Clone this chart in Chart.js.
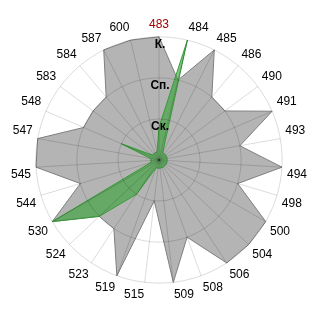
<!DOCTYPE html>
<html>
<head>
<meta charset="utf-8">
<script src="https://cdn.jsdelivr.net/npm/chart.js@4"></script>
<style>
    html, body { margin: 0; padding: 0; background: #ffffff; }
    #wrap { width: 320px; height: 320px; }
</style>
</head>
<body>
<div id="wrap"><canvas id="chart"></canvas></div>
<script>
const categories = ['483', '484', '485', '486', '490', '491', '493', '494', '498', '500', '504', '506', '508', '509',
    '515', '519', '523', '524', '530', '544', '545', '547', '548', '583', '584', '587', '600'];
const grayValues = [3, 2, 3, 2, 2, 3, 2, 3, 2, 3, 3, 3, 2, 3, 1, 3, 2, 2, 3, 2, 3, 3, 2, 2, 2, 3, 3];
const greenValues = [0.8, 3, 0.2, 0.2, 0.2, 0.2, 0.2, 0.2, 0.2, 0.2, 0.2, 0.2, 0.2, 0.2,
    0.2, 0.2, 1, 2, 3, 0.2, 0.2, 0.2, 1, 0.2, 0.2, 0.2, 0.2];
const tickValues = [1, 2, 3];
const tickLabels = ['Ск.', 'Сп.', 'К.'];
const highlightCategory = '483';

// подписи уровней рисуем чуть ниже колец
const levelLabels = {
    id: 'levelLabels',
    afterDraw(chart) {
        const scale = chart.scales.r;
        const ctx = chart.ctx;
        ctx.save();
        ctx.font = 'bold 12px "Liberation Sans", Arial, sans-serif';
        ctx.fillStyle = '#000000';
        ctx.textAlign = 'center';
        ctx.textBaseline = 'middle';
        tickValues.forEach((v, i) => {
            const r = scale.getDistanceFromCenterForValue(v);
            ctx.fillText(tickLabels[i], scale.xCenter + 1, scale.yCenter - r + 8);
        });
        ctx.restore();
    }
};

new Chart(document.getElementById('chart'), {
    type: 'radar',
    data: {
        labels: categories,
        datasets: [{
            data: greenValues,
            backgroundColor: 'rgba(50, 160, 50, 0.6)',
            borderColor: 'rgb(55, 155, 55)',
            borderWidth: 1,
            pointRadius: 0
        }, {
            data: grayValues,
            backgroundColor: '#b4b4b4',
            borderColor: '#7f7f7f',
            borderWidth: 1,
            pointRadius: 0
        }]
    },
    options: {
        responsive: true,
        maintainAspectRatio: false,
        animation: false,
        layout: { padding: 12 },
        plugins: {
            legend: { display: false },
            tooltip: { enabled: false }
        },
        elements: { line: { tension: 0 } },
        scales: {
            r: {
                min: 0,
                max: 3,
                ticks: { stepSize: 1, display: false },
                grid: { circular: true, color: 'rgba(0, 0, 0, 0.14)', z: 1 },
                angleLines: { color: 'rgba(0, 0, 0, 0.14)' },
                pointLabels: {
                    padding: 5,
                    font: { family: '"Liberation Sans", Arial, sans-serif', size: 12 },
                    color: (ctx) => categories[ctx.index] === highlightCategory ? '#a00000' : '#000000'
                }
            }
        }
    },
    plugins: [levelLabels]
});
</script>
</body>
</html>
